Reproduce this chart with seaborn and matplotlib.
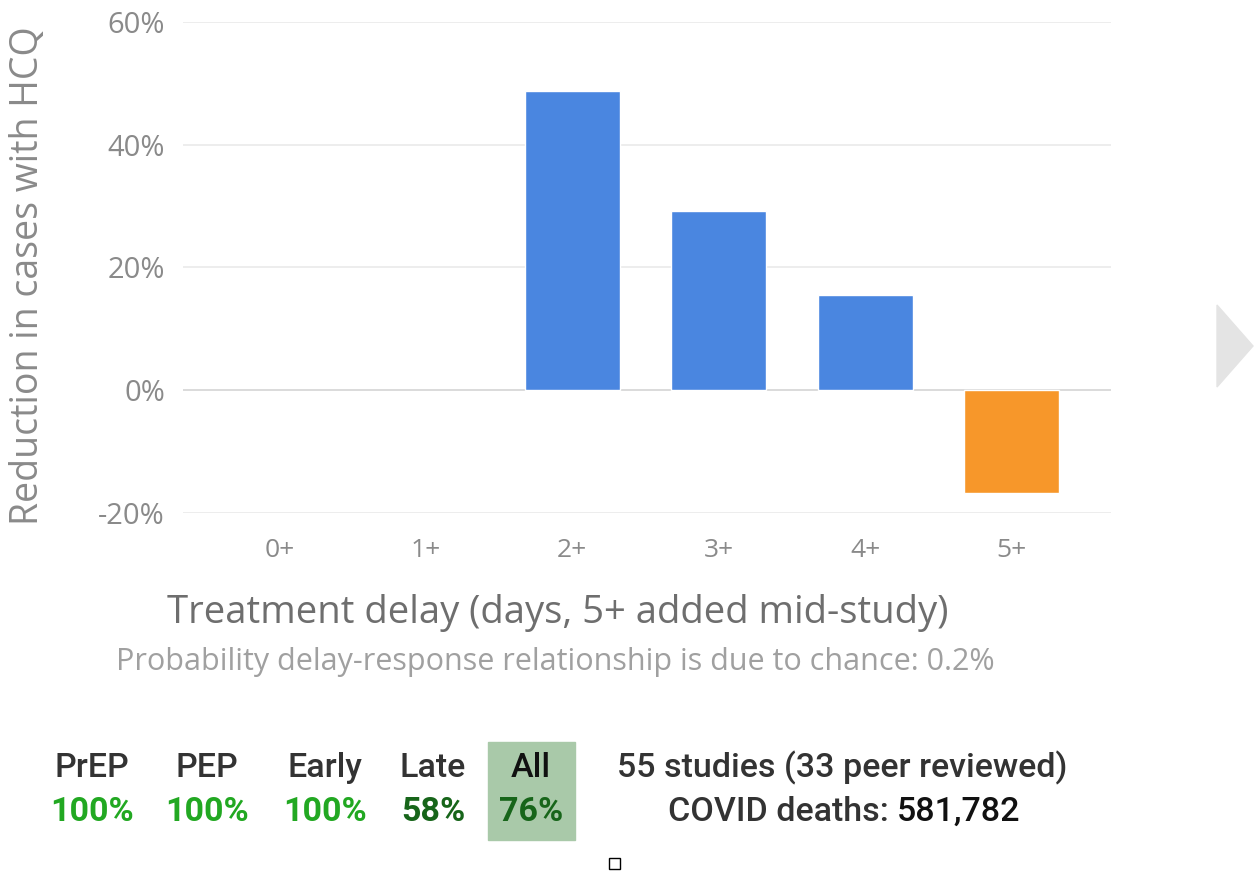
import numpy as np
import pandas as pd
import matplotlib
matplotlib.use("Agg")
import matplotlib.pyplot as plt
import seaborn as sns
from matplotlib.patches import Rectangle, Polygon

# 数据
delays = ["0+", "1+", "2+", "3+", "4+", "5+"]
reduction = [np.nan, np.nan, 48.7, 29.2, 15.6, -16.8]
bar_group = ["pos", "pos", "pos", "pos", "pos", "neg"]
y_ticks = [-20, 0, 20, 40, 60]

summary_names = ["PrEP", "PEP", "Early", "Late", "All"]
summary_values = ["100%", "100%", "100%", "58%", "76%"]
n_studies = 55
n_peer = 33
covid_deaths = "581,782"

W, H = 1258, 872

sns.set_theme(style="white")
plt.rcParams['font.family'] = ['Open Sans', 'DejaVu Sans']

df = pd.DataFrame({"delay": delays, "reduction": reduction, "group": bar_group})

fig = plt.figure(figsize=(W / 100, H / 100), dpi=100)
ax = fig.add_axes([183 / W, 1 - 513 / H, (1111 - 183) / W, (513 - 22) / H])

sns.barplot(data=df, x="delay", y="reduction", hue="group", order=delays,
            palette={"pos": "#4a86e0", "neg": "#f7972a"}, width=0.65,
            saturation=1, dodge=False, legend=False, ax=ax, zorder=3)

ax.set_ylim(-20, 60)
ax.set_xlim(-0.66, 5.68)
ax.set_yticks(y_ticks)
ax.set_yticklabels([f"{v}%" for v in y_ticks])
for v in y_ticks:
    ax.axhline(v, color="#d8d8d8" if v == 0 else "#ececec", lw=1.3, zorder=1)
for s in ax.spines.values():
    s.set_visible(False)
ax.tick_params(axis="y", length=0, pad=13, labelsize=21, labelcolor="#8a8a8a")
ax.tick_params(axis="x", length=0, pad=18, labelsize=19, labelcolor="#8a8a8a")

ax.set_xlabel("")
ax.set_ylabel("Reduction in cases with HCQ", fontsize=27, color="#8a8a8a")
ax.yaxis.set_label_coords(-0.147, 0.483)

fig.text(558 / W, 1 - 613 / H, "Treatment delay (days, 5+ added mid-study)",
         ha="center", va="center", fontsize=27.5, color="#6e6e6e")
fig.text(555 / W, 1 - 662 / H,
         "Probability delay-response relationship is due to chance: 0.2%",
         ha="center", va="center", fontsize=22, color="#a0a0a0")

# 右侧箭头
fig.patches.append(Polygon([[1217 / W, 1 - 305 / H], [1253 / W, 1 - 346 / H],
                            [1217 / W, 1 - 387 / H]], closed=True,
                           transform=fig.transFigure, color="#e4e4e4"))

# 底部汇总
fig.patches.append(Rectangle((488 / W, 1 - 840 / H), 87 / W, 98 / H,
                             transform=fig.transFigure, color="#a9c9a9", zorder=0))
name_x = [92, 207, 325, 433, 531]
val_colors = ["#22a822", "#22a822", "#22a822", "#17651a", "#17651a"]
for xp, nm, val, c in zip(name_x, summary_names, summary_values, val_colors):
    fig.text(xp / W, 1 - 768 / H, nm, ha="center", va="center", fontsize=24.5,
             color="#111111" if nm == "All" else "#333333", family="Roboto",
             fontweight="medium")
    fig.text(xp / W, 1 - 812 / H, val, ha="center", va="center", fontsize=24.5,
             color=c, fontweight="bold", family="Roboto")

fig.text(842 / W, 1 - 768 / H, f"{n_studies} studies ({n_peer} peer reviewed)",
         ha="center", va="center", fontsize=24.5, color="#333333", family="Roboto",
         fontweight="medium")
fig.text(897 / W, 1 - 812 / H, "COVID deaths: ", ha="right", va="center",
         fontsize=24.5, color="#333333", family="Roboto", fontweight="medium")
fig.text(897 / W, 1 - 812 / H, covid_deaths, ha="left", va="center",
         fontsize=24.5, color="#111111", fontweight="medium", family="Roboto")

fig.patches.append(Rectangle((609 / W, 1 - 869 / H), 11 / W, 11 / H,
                             transform=fig.transFigure, facecolor="white",
                             edgecolor="black", lw=1))

fig.savefig("out.png", dpi=100)
